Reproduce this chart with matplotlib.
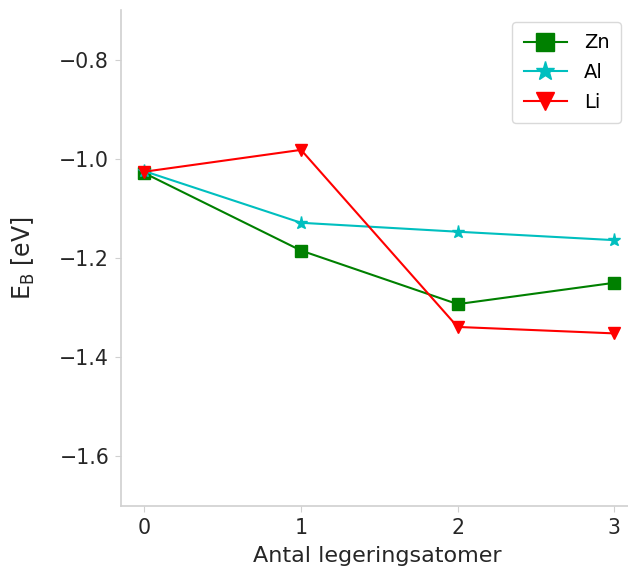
import matplotlib
matplotlib.use("Agg")
import matplotlib.pyplot as plt

plt.rcParams['font.family'] = ['DejaVu Sans']

n_atoms = [0, 1, 2, 3]
zn = [-1.029, -1.185, -1.293, -1.250]
al = [-1.025, -1.129, -1.147, -1.164]
li = [-1.026, -0.982, -1.339, -1.352]

W, H = 628, 569
fig = plt.figure(figsize=(W / 100, H / 100), dpi=100)
left, right, top, bottom = 121, 633, 10, 506
ax = fig.add_axes([left / W, 1 - bottom / H, (right - left) / W, (bottom - top) / H])

ax.plot(n_atoms, zn, 'g-s', lw=1.5, ms=8.5, label='Zn')
ax.plot(n_atoms, al, 'c-*', lw=1.5, ms=9.5, label='Al')
ax.plot(n_atoms, li, 'r-v', lw=1.5, ms=8.5, label='Li')

ax.set_xlim(-0.15, 3.12)
ax.set_ylim(-1.7, -0.7)
ax.set_xticks(n_atoms)
ax.set_yticks([-1.6, -1.4, -1.2, -1.0, -0.8])

for s in ['top', 'right']:
    ax.spines[s].set_visible(False)
for s in ['left', 'bottom']:
    ax.spines[s].set_color('#d0d0d0')
    ax.spines[s].set_linewidth(1.2)
ax.tick_params(colors='#d0d0d0', labelcolor='#262626', labelsize=14.8, length=4.5, pad=4)

ax.set_xlabel('Antal legeringsatomer', fontsize=16, color='#262626', labelpad=6)
ax.set_ylabel(r'E$_{\mathrm{B}}$ [eV]', fontsize=17, color='#262626', labelpad=16)

leg = ax.legend(loc='upper right', fontsize=14, frameon=True, borderaxespad=0.6,
                markerscale=1.5, handlelength=2.2, handletextpad=0.9,
                borderpad=0.6, labelspacing=0.55)
leg.get_frame().set_edgecolor('#d0d0d0')

fig.savefig('out.png', dpi=100)
